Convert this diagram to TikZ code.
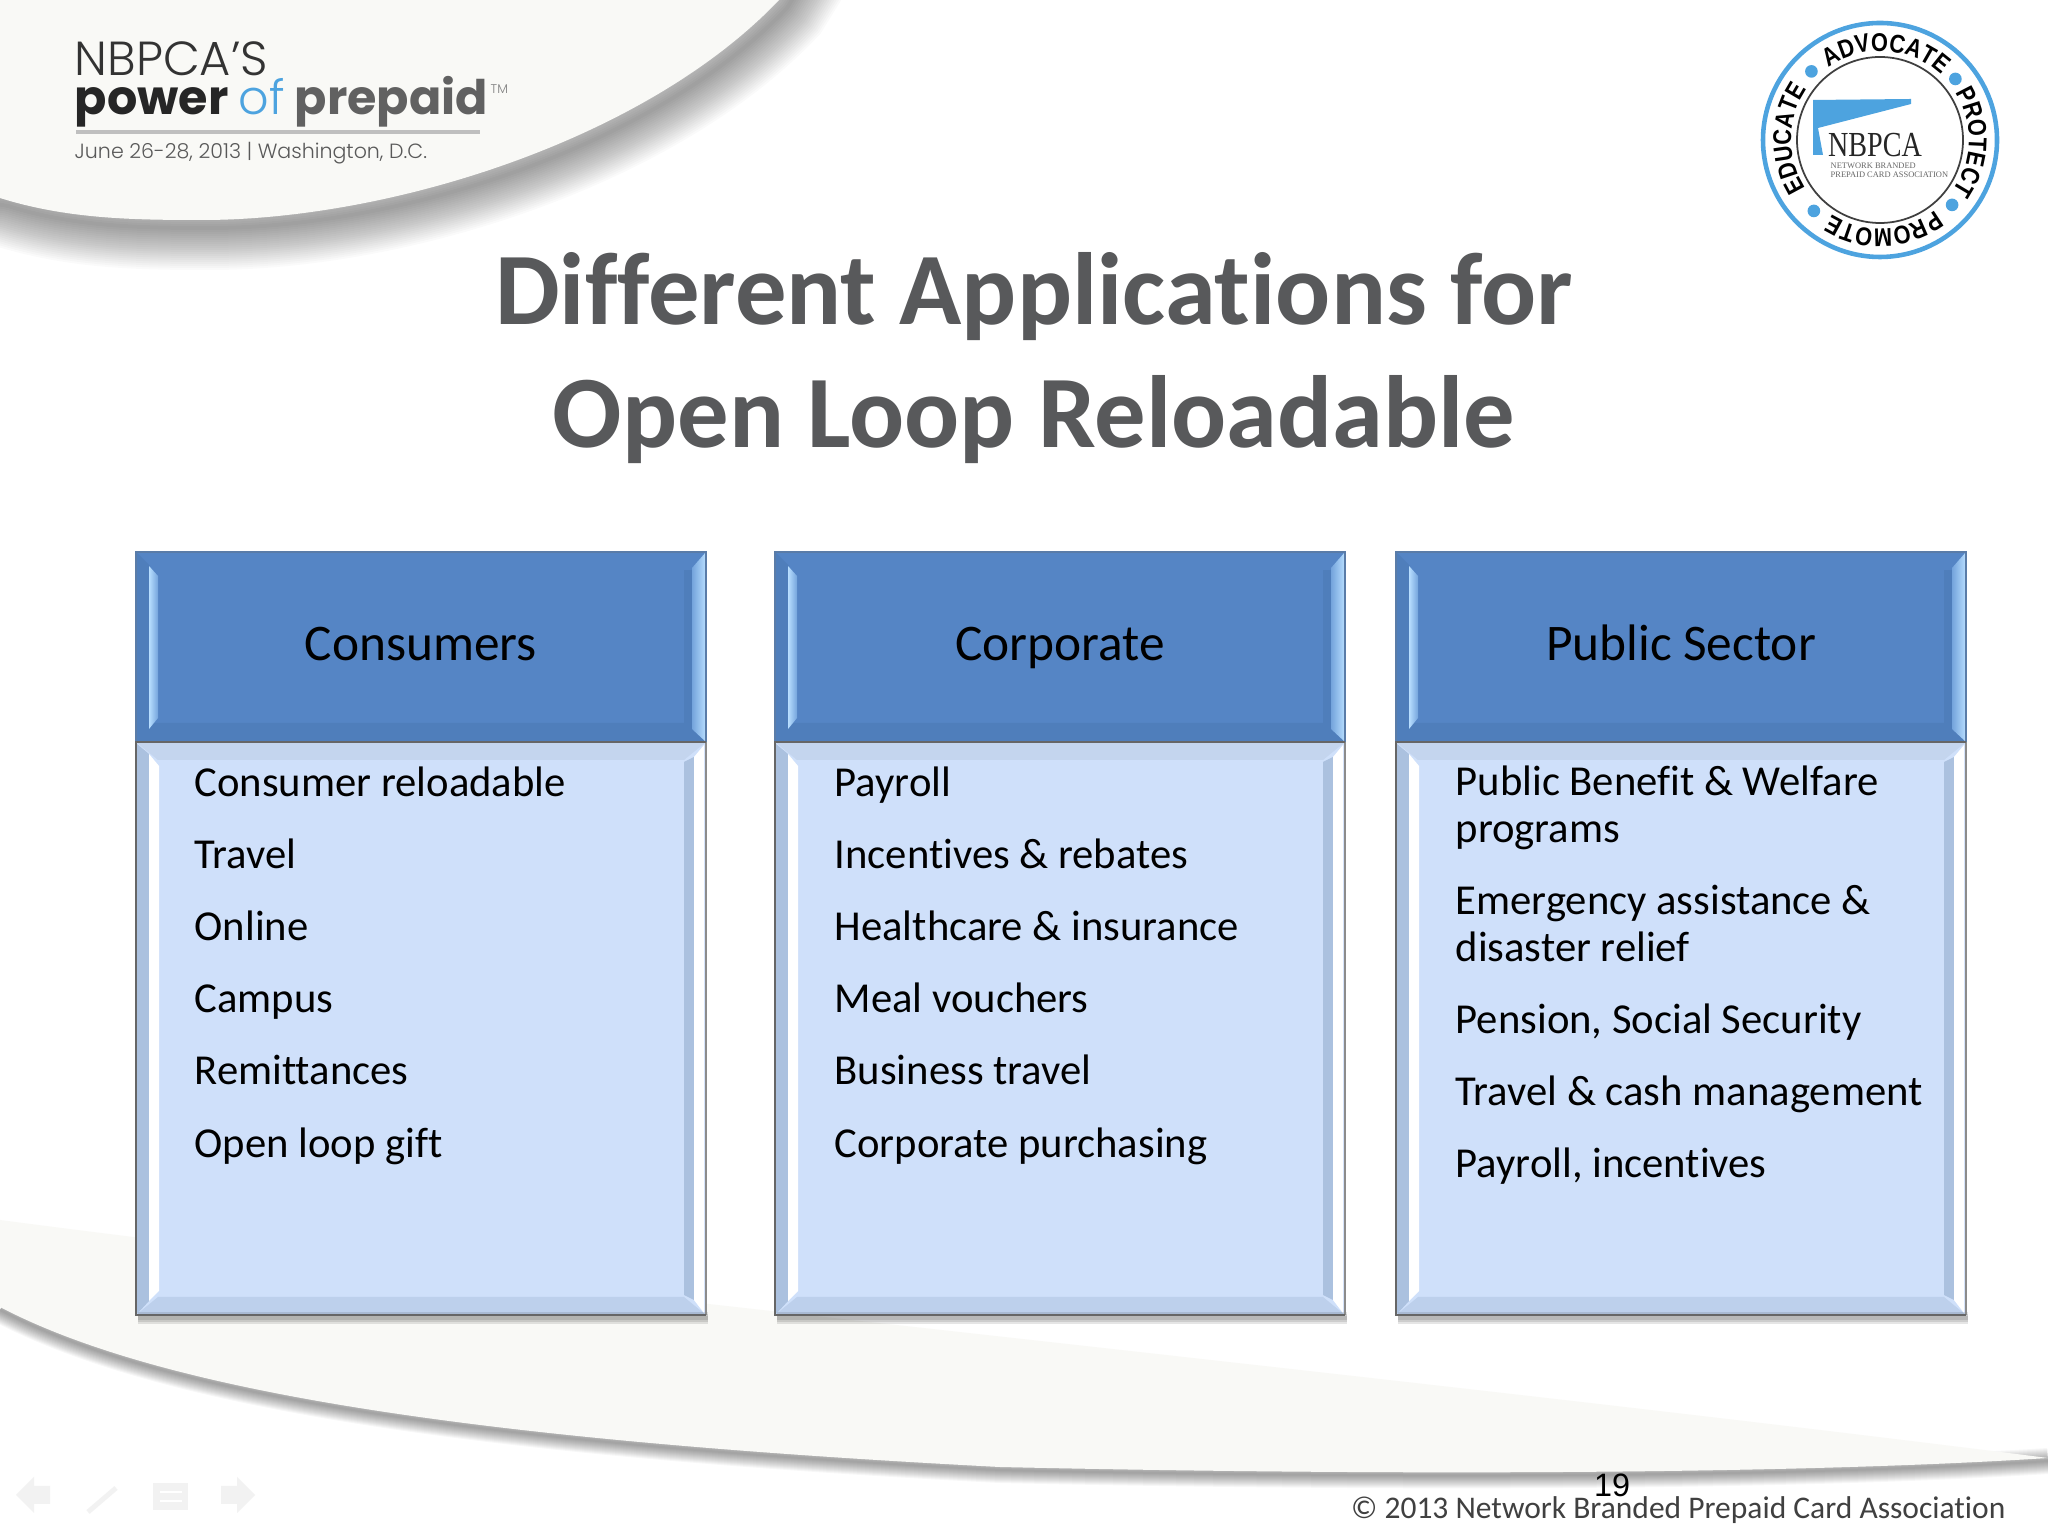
\documentclass[tikz,border=0pt]{standalone}
\usepackage{fontspec}
\setmainfont[Ligatures=CommonOff]{Carlito}
\newfontfamily\logofont{Poppins}
\newfontfamily\logolight{Poppins Light}
\newfontfamily\arialfont{Liberation Sans}
\newfontfamily\sealsans[FakeStretch=0.85]{Liberation Sans}
\newfontfamily\sealfont{Liberation Serif}
\usetikzlibrary{positioning,calc,decorations.text}

\definecolor{headblue}{HTML}{5585C5}
\definecolor{headedge}{HTML}{5A7CA8}
\definecolor{headlow}{HTML}{4F7EBB}
\definecolor{headlight}{HTML}{B8DEFF}
\definecolor{headmid}{HTML}{74A4DC}
\definecolor{bodyblue}{HTML}{CFE0FA}
\definecolor{bodytop}{HTML}{C4D5EE}
\definecolor{bodylow}{HTML}{BDD0EC}
\definecolor{bodyside}{HTML}{ABC1DF}
\definecolor{titlegrey}{HTML}{58595B}
\definecolor{sealblue}{HTML}{4DA3DF}
\definecolor{paper}{HTML}{F9F9F6}
\definecolor{navgrey}{HTML}{F2F2F2}

\begin{document}
\begin{tikzpicture}[x=0.01cm,y=0.01cm,
	headbox/.style={rectangle,fill=headblue,outer sep=0pt,minimum width=570*0.01cm,minimum height=190*0.01cm,inner sep=0pt,text height=10.2pt,text depth=2.5pt,font=\fontsize{14.6}{15}\selectfont},
	bodybox/.style={rectangle,fill=bodyblue,outer sep=0pt,minimum width=570*0.01cm,minimum height=573*0.01cm,inner sep=0pt},
	item/.style={inner sep=0pt,anchor=north west,text height=9pt,text depth=2.6pt,font=\fontsize{12.13}{13.4}\selectfont},
	nextitem/.style={item,below=8.5pt of #1.south west,anchor=north west},
	twolines/.style={align=left,text height=22.2pt},
	titletext/.style={font=\fontsize{29.2}{35}\selectfont\bfseries,text=titlegrey,align=center,inner sep=0pt},
	dot/.style={circle,fill=sealblue,inner sep=0pt,minimum size=3.6pt},
	sealtext/.style={decorate,decoration={text along path,text align=center,text={|\sealsans\bfseries\fontsize{7.3}{8}\selectfont|#1}}}]

	\useasboundingbox (0,0) rectangle (2048,1536);
	\fill[white] (0,0) rectangle (2048,1536);

	% top corner
	\foreach \w in {4,8,...,84}
		\draw[black,opacity=0.02,line width=\w*0.01cm,shift={(8,-8)}] (-40,1345) -- (0,1338) .. controls (70,1316) and (140,1316) .. (208,1316) .. controls (400,1318) and (650,1400) .. (779,1536) -- (800,1570);
	\fill[paper] (0,1338) .. controls (70,1316) and (140,1316) .. (208,1316) .. controls (400,1318) and (650,1400) .. (779,1536) -- (0,1536) -- cycle;

	% bottom corner
	\foreach \w in {2,4,...,26}
		\draw[black,opacity=0.03,line width=\w*0.01cm,shift={(0,-3)}] (0,229) .. controls (170,140) and (500,95) .. (1000,69) .. controls (1400,60) and (1800,62) .. (2048,78);
	\fill[paper] (0,316) .. controls (500,250) and (1400,160) .. (2048,78) .. controls (1800,62) and (1400,60) .. (1000,69) .. controls (500,95) and (170,140) .. (0,229) -- cycle;

	% logo
	\node[inner sep=0pt,anchor=base west,font=\logolight\fontsize{13.6}{14}\selectfont,text=black!80] (logoa) at (74,1460) {NBPCA’S};
	\node[inner sep=0pt,anchor=base west,font=\logofont\bfseries\fontsize{13.55}{14}\selectfont,text=black!85] (logob) at (74,1421) {power \textcolor{sealblue}{\logolight\mdseries of} \textcolor{black!62}{prepaid}};
	\node[inner sep=0pt,anchor=base west,font=\logolight\fontsize{3.6}{4}\selectfont,text=black!50] (logotm) at (490,1442) {TM};
	\draw[black!25,line width=0.9pt] (76,1404) -- (480,1404);
	\node[inner sep=0pt,anchor=base west,font=\logolight\fontsize{5.85}{6}\selectfont,text=black!65] (logoc) at (74,1377) {June 26-28, 2013 | Washington, D.C.};

	% seal
	\coordinate (seal) at (1880,1396);
	\draw[sealblue,line width=1.3pt] (seal) circle (117);
	\draw[black!75,line width=0.5pt] (seal) circle (83);
	\path[sealtext=ADVOCATE] (seal) ++(130:89) arc[start angle=130,end angle=42,radius=89];
	\path[sealtext=PROTECT] (seal) ++(32:89) arc[start angle=32,end angle=-35,radius=89];
	\path[sealtext=PROMOTE] (seal) ++(-47:89) arc[start angle=-47,end angle=-128,radius=89];
	\path[sealtext=EDUCATE] (seal) ++(213:89) arc[start angle=213,end angle=145,radius=89];
	\node[dot] (dota) at ($(seal)+(135:97)$) {};
	\node[dot] (dotb) at ($(seal)+(39:97)$) {};
	\node[dot] (dotc) at ($(seal)+(-42:97)$) {};
	\node[dot] (dotd) at ($(seal)+(227:97)$) {};
	\fill[sealblue] (1813,1436) -- (1911,1437) -- (1911,1432) -- (1818,1408) -- (1823,1381) -- (1813,1381) -- cycle;
	\node[inner sep=0pt,anchor=base,font=\sealfont\fontsize{10}{10}\selectfont,text=black!85] (sealname) at (1875,1379) {\scalebox{0.8}[1]{NBPCA}};
	\node[inner sep=0pt,anchor=north west,font=\sealfont\fontsize{2.4}{3}\selectfont,text=black!60,align=left] (sealsub) at (1830,1374) {NETWORK BRANDED\\[-0.5pt]PREPAID CARD ASSOCIATION};

	% title
	\node[titletext] (title) at (1034,1178) {Different Applications for\\Open Loop Reloadable};

	% boxes
	\node[headbox,anchor=north west] (conshead) at (136,984) {Consumers};
	\node[bodybox,below=0pt of conshead] (consbody) {};
	\node[headbox,anchor=north west] (corphead) at (775,984) {Corporate};
	\node[bodybox,below=0pt of corphead] (corpbody) {};
	\node[headbox,anchor=north west] (pubhead) at (1396,984) {Public Sector};
	\node[bodybox,below=0pt of pubhead] (pubbody) {};

	\foreach \n in {cons,corp,pub} {
		% head bevel
		\fill[headlow] (\n head.south west) -- ($(\n head.south west)+(14,19)$) -- ($(\n head.south east)+(-14,19)$) -- (\n head.south east) -- cycle;
		\fill[headlow] (\n head.north west) -- ($(\n head.north west)+(14,-14)$) -- ($(\n head.south west)+(14,13)$) -- (\n head.south west) -- cycle;
		\fill[headlow] ($(\n head.north east)+(-22,-18)$) rectangle ($(\n head.south east)+(-14,19)$);
		\shade[left color=headlight,right color=headmid] ($(\n head.north west)+(13,-14)$) -- ($(\n head.north west)+(22,-24)$) -- ($(\n head.south west)+(22,24)$) -- ($(\n head.south west)+(13,13)$) -- cycle;
		\shade[left color=headmid,right color=headlight] (\n head.north east) -- ($(\n head.north east)+(-14,-16)$) -- ($(\n head.south east)+(-14,13)$) -- (\n head.south east) -- cycle;
		% body bevel
		\fill[bodytop] (\n body.north west) -- (\n body.north east) -- ($(\n body.north east)+(-22,-18)$) -- ($(\n body.north west)+(22,-18)$) -- cycle;
		\fill[bodylow] (\n body.south west) -- (\n body.south east) -- ($(\n body.south east)+(-22,18)$) -- ($(\n body.south west)+(22,18)$) -- cycle;
		\fill[bodyside] ($(\n body.north west)+(1,-2)$) -- ($(\n body.north west)+(13,-12)$) -- ($(\n body.south west)+(13,14)$) -- ($(\n body.south west)+(1,1)$) -- cycle;
		\fill[white] ($(\n body.north west)+(13,-12)$) -- ($(\n body.north west)+(23,-24)$) -- ($(\n body.south west)+(23,24)$) -- ($(\n body.south west)+(13,14)$) -- cycle;
		\fill[bodyside] ($(\n body.north east)+(-12,-15)$) -- ($(\n body.north east)+(-22,-20)$) -- ($(\n body.south east)+(-22,20)$) -- ($(\n body.south east)+(-12,15)$) -- cycle;
		\fill[white] ($(\n body.north east)+(-2,-3)$) -- ($(\n body.north east)+(-12,-15)$) -- ($(\n body.south east)+(-12,15)$) -- ($(\n body.south east)+(-2,2)$) -- cycle;
		% outlines and shadow
		\foreach \w in {12,8,4}
			\draw[black,opacity=0.1,line width=\w*0.01cm] ($(\n body.south west)+(2,-3)$) -- ($(\n body.south east)+(2,-3)$);
		\draw[headedge,line width=0.6pt] (\n head.north west) rectangle (\n head.south east);
		\draw[black!45,line width=0.6pt] (\n body.north east) -- (\n body.south east);
		\draw[black!60,line width=0.6pt] (\n body.north east) -- (\n head.south west) -- (\n body.south west) -- (\n body.south east);
	}

	% first column
	\node[item] (c1) at (194,771.8) {Consumer reloadable};
	\node[nextitem=c1] (c2) {Travel};
	\node[nextitem=c2] (c3) {Online};
	\node[nextitem=c3] (c4) {Campus};
	\node[nextitem=c4] (c5) {Remittances};
	\node[nextitem=c5] (c6) {Open loop gift};

	% second column
	\node[item] (p1) at (834,771.8) {Payroll};
	\node[nextitem=p1] (p2) {Incentives \& rebates};
	\node[nextitem=p2] (p3) {Healthcare \& insurance};
	\node[nextitem=p3] (p4) {Meal vouchers};
	\node[nextitem=p4] (p5) {Business travel};
	\node[nextitem=p5] (p6) {Corporate purchasing};

	% third column
	\node[item,twolines] (s1) at (1455,771.8) {Public Benefit \& Welfare\\programs};
	\node[nextitem=s1,twolines] (s2) {Emergency assistance \&\\disaster relief};
	\node[nextitem=s2] (s3) {Pension, Social Security};
	\node[nextitem=s3] (s4) {Travel \& cash management};
	\node[nextitem=s4] (s5) {Payroll, incentives};

	% footer
	\node[inner sep=0pt,anchor=base,font=\arialfont\fontsize{9.2}{10}\selectfont] (pagenum) at (1612,39) {19};
	\node[inner sep=0pt,anchor=base east,font=\fontsize{8.96}{10}\selectfont,text=black!75] (copy) at (2006,18) {© 2013 Network Branded Prepaid Card Association};

	% slide show buttons
	\fill[navgrey] (16,41) -- (34,59) -- (34,50) -- (50,50) -- (50,32) -- (34,32) -- (34,23) -- cycle;
	\draw[navgrey,line width=1.4pt] (88,24) -- (116,48);
	\fill[navgrey] (153,26) rectangle (188,53);
	\draw[white,line width=0.5pt] (160,44) -- (182,44) (160,35) -- (182,35);
	\fill[navgrey] (255,41) -- (237,59) -- (237,50) -- (221,50) -- (221,32) -- (237,32) -- (237,23) -- cycle;
\end{tikzpicture}
\end{document}
